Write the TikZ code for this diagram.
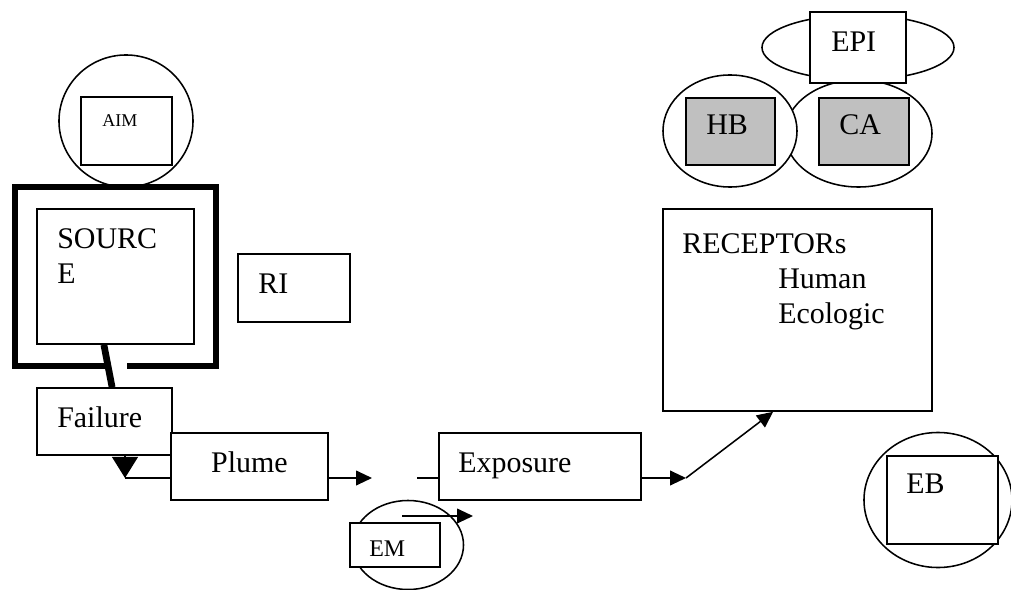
\documentclass[tikz,border=0pt]{standalone}
\usepackage{fontspec}
\setmainfont{Liberation Serif}
\usetikzlibrary{arrows.meta,shapes.geometric}
\definecolor{boxgray}{RGB}{192,192,192}

\begin{document}
\begin{tikzpicture}[
    x=0.025cm, y=-0.025cm,
    box/.style={
        rectangle,
        draw=black,
        fill=white,
        line width=1.1pt,
        inner sep=0pt
    },
    oval/.style={
        ellipse,
        draw=black,
        fill=white,
        line width=1.1pt,
        inner sep=0pt
    },
    txt/.style={
        inner sep=0pt,
        font=\fontsize{21.3}{25}\selectfont
    },
    link/.style={line width=1.1pt},
    arrow/.style={line width=1.1pt, -{Triangle[length=0.4cm,width=0.37cm]}},
    heavy/.style={line width=4.8pt}
]
    \useasboundingbox (0,0) rectangle (1011,590);

    % Aim and source
    \node[oval, minimum width=3.35cm, minimum height=3.3cm] (aimoval) at (126,121) {};
    \node[box, minimum width=2.275cm, minimum height=1.7cm] (aim) at (126.5,131) {};
    \node[txt, font=\fontsize{12.8}{15}\selectfont, anchor=base west] (aimtext) at (102,127) {AIM};

    \draw[heavy] (110,366) -- (15,366) -- (15,187) -- (216,187) -- (216,366) -- (127,366);

    \node[box, minimum width=3.925cm, minimum height=3.375cm] (source) at (115.5,276.5) {};
    \node[txt, anchor=north west, align=left] (sourcetext) at (57,228) {SOURC\\E};

    \node[box, minimum width=2.8cm, minimum height=1.7cm] (ri) at (294,288) {};
    \node[txt, anchor=base west] (ritext) at (258,293) {RI};

    % Failure and plume
    \node[box, minimum width=3.375cm, minimum height=1.675cm] (failure) at (104.5,421.5) {};
    \node[txt, anchor=base west] (failuretext) at (57,427) {Failure};
    \draw[heavy] ([xshift=-0.29cm]source.south) -- ([xshift=0.19cm]failure.north);

    \node[box, minimum width=3.925cm, minimum height=1.675cm] (plume) at (249.5,466.5) {};
    \node[txt, anchor=base] (plumetext) at (249.5,472) {Plume};

    \coordinate (failtip) at (125,478);
    \draw[link, -{Triangle[length=0.53cm,width=0.65cm]}] (failure.south -| failtip) -- (failtip);
    \draw[link] (failtip) -- (failtip -| plume.west);

    \coordinate (plumeend) at (372,478);
    \draw[arrow] (plumeend -| plume.east) -- (plumeend);

    % Exposure
    \node[box, minimum width=5.05cm, minimum height=1.675cm] (exposure) at (540,466.5) {};
    \node[txt, anchor=base west] (exposuretext) at (458,472) {Exposure};
    \coordinate (expstart) at (417,478);
    \draw[link] (expstart) -- (expstart -| exposure.west);

    \node[oval, minimum width=2.775cm, minimum height=2.225cm] (emoval) at (408,545) {};
    \node[box, minimum width=2.25cm, minimum height=1.1cm] (em) at (395,545) {};
    \node[txt, font=\fontsize{17}{20}\selectfont, anchor=base west] (emtext) at (369,556) {EM};
    \coordinate (emstart) at (402,516);
    \coordinate (emend) at (473,516);
    \draw[arrow] (emstart) -- (emend);

    % Receptors
    \node[box, minimum width=6.725cm, minimum height=5.05cm] (receptors) at (797.5,310) {};
    \node[txt, anchor=north west, align=left] (receptorstext) at (682,233) {RECEPTORs\\\hspace*{2.4cm}Human\\\hspace*{2.4cm}Ecologic};
    \coordinate (bend) at (686,478);
    \draw[arrow] (bend -| exposure.east) -- (bend);
    \draw[arrow] (bend) -- ([xshift=-0.61cm]receptors.south);

    % Effects
    \node[oval, minimum width=3.675cm, minimum height=2.675cm] (caoval) at (858.5,133.5) {};
    \node[oval, minimum width=3.35cm, minimum height=2.8cm] (hboval) at (730,131) {};
    \node[oval, minimum width=4.8cm, minimum height=1.625cm] (epioval) at (858,47.5) {};
    \node[box, minimum width=2.4cm, minimum height=1.775cm] (epi) at (858,47.5) {};
    \node[txt, anchor=base west] (epitext) at (831,52) {EPI};
    \node[box, fill=boxgray, minimum width=2.225cm, minimum height=1.675cm] (hb) at (730.5,131.5) {};
    \node[txt, anchor=base west] (hbtext) at (706,135) {HB};
    \node[box, fill=boxgray, minimum width=2.25cm, minimum height=1.675cm] (ca) at (864,131.5) {};
    \node[txt, anchor=base west] (catext) at (839,135) {CA};

    \node[oval, minimum width=3.7cm, minimum height=3.375cm] (eboval) at (938,500) {};
    \node[box, minimum width=2.775cm, minimum height=2.2cm] (eb) at (942.5,500) {};
    \node[txt, anchor=base west] (ebtext) at (906,493) {EB};
\end{tikzpicture}
\end{document}
